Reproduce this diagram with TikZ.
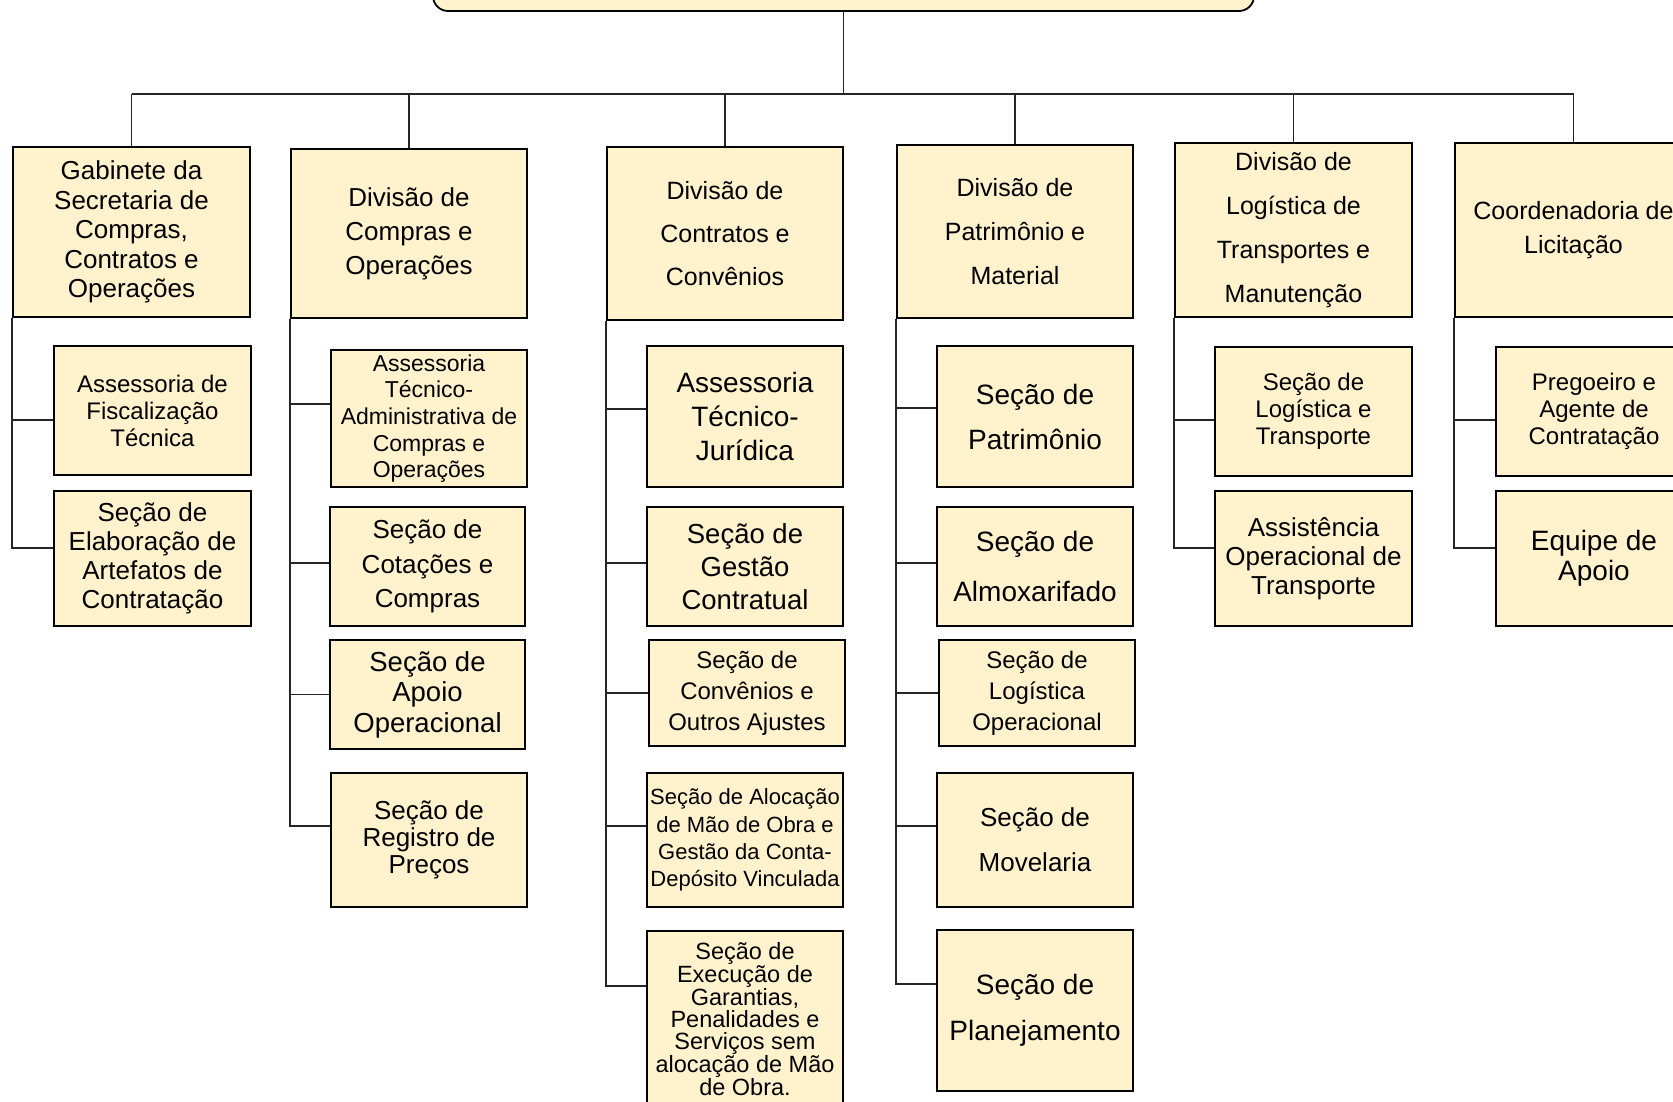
\documentclass[tikz,border=0pt]{standalone}
\usepackage{fontspec}
\setmainfont{Liberation Sans}
\definecolor{fundo}{HTML}{FFF2CC}
\newcommand{\fsz}[2]{\fontsize{#1}{#2}\selectfont}

\begin{document}
\begin{tikzpicture}[x=1pt, y=-1pt,
    caixa/.style={draw=black, fill=fundo, line width=1.8pt, inner sep=0pt, align=center},
    ligacao/.style={draw=black!85, line width=1.6pt}]
            \useasboundingbox (0,0) rectangle (1673,1101);

            % topo (cortado)
            \node[caixa, rounded corners=15pt, minimum width=821pt, minimum height=100pt] (topo) at (843.5,-39) {};

            % divisoes
            \node[caixa, minimum width=237pt, minimum height=170pt, font=\fsz{26}{29.5}] (d1) at (131.5,232) {Gabinete da\\Secretaria de\\Compras,\\Contratos e\\Operações};
            \node[caixa, minimum width=236pt, minimum height=169pt, font=\fsz{26}{34}] (d2) at (409,233.5) {Divisão de\\Compras e\\Operações};
            \node[caixa, minimum width=236pt, minimum height=173pt, font=\fsz{25}{43}] (d3) at (725,233.5) {Divisão de\\Contratos e\\Convênios};
            \node[caixa, minimum width=236pt, minimum height=173pt, font=\fsz{25}{44}] (d4) at (1015,231.5) {Divisão de\\Patrimônio e\\Material};
            \node[caixa, minimum width=237pt, minimum height=174pt, font=\fsz{25}{44}] (d5) at (1293.5,230) {Divisão de\\Logística de\\Transportes e\\Manutenção};
            \node[caixa, minimum width=237pt, minimum height=174pt, font=\fsz{25}{34}] (d6) at (1573.5,230) {Coordenadoria de\\Licitação};

            % secoes
            \node[caixa, minimum width=197pt, minimum height=129pt, font=\fsz{24}{27}] (a1) at (152.5,410.5) {Assessoria de\\Fiscalização\\Técnica};
            \node[caixa, minimum width=197pt, minimum height=135pt, font=\fsz{26}{29}] (a2) at (152.5,558.5) {Seção de\\Elaboração de\\Artefatos de\\Contratação};

            \node[caixa, minimum width=196pt, minimum height=137pt, font=\fsz{23}{26.7}] (b1) at (429,418.5) {Assessoria\\Técnico-\\Administrativa de\\Compras e\\Operações};
            \node[caixa, minimum width=195pt, minimum height=119pt, font=\fsz{26}{34.5}] (b2) at (427.5,566.5) {Seção de\\Cotações e\\Compras};
            \node[caixa, minimum width=195pt, minimum height=109pt, font=\fsz{27.5}{30.4}] (b3) at (427.5,694.5) {Seção de\\Apoio\\Operacional};
            \node[caixa, minimum width=196pt, minimum height=134pt, font=\fsz{26}{27.2}] (b4) at (429,840) {Seção de\\Registro de\\Preços};

            \node[caixa, minimum width=196pt, minimum height=141pt, font=\fsz{28}{34}] (c1) at (745,416.5) {Assessoria\\Técnico-\\Jurídica};
            \node[caixa, minimum width=196pt, minimum height=119pt, font=\fsz{27.5}{33}] (c2) at (745,566.5) {Seção de\\Gestão\\Contratual};
            \node[caixa, minimum width=196pt, minimum height=106pt, font=\fsz{24}{31}] (c3) at (747,693) {Seção de\\Convênios e\\Outros Ajustes};
            \node[caixa, minimum width=196pt, minimum height=134pt, font=\fsz{22}{27.4}] (c4) at (745,840) {Seção de Alocação\\de Mão de Obra e\\Gestão da Conta-\\Depósito Vinculada};
            \node[caixa, minimum width=196pt, minimum height=176pt, font=\fsz{23.5}{22}] (c5) at (745,1019) {Seção de\\Execução de\\Garantias,\\Penalidades e\\Serviços sem\\alocação de Mão\\de Obra.};

            \node[caixa, minimum width=196pt, minimum height=141pt, font=\fsz{28}{45}] (e1) at (1035,416.5) {Seção de\\Patrimônio};
            \node[caixa, minimum width=196pt, minimum height=119pt, font=\fsz{28}{50}] (e2) at (1035,566.5) {Seção de\\Almoxarifado};
            \node[caixa, minimum width=196pt, minimum height=106pt, font=\fsz{24}{31}] (e3) at (1037,693) {Seção de\\Logística\\Operacional};
            \node[caixa, minimum width=196pt, minimum height=134pt, font=\fsz{26}{45}] (e4) at (1035,840) {Seção de\\Movelaria};
            \node[caixa, minimum width=196pt, minimum height=161pt, font=\fsz{28}{46}] (e5) at (1035,1010.5) {Seção de\\Planejamento};

            \node[caixa, minimum width=197pt, minimum height=129pt, font=\fsz{24}{27}] (f1) at (1313.5,411.5) {Seção de\\Logística e\\Transporte};
            \node[caixa, minimum width=197pt, minimum height=135pt, font=\fsz{26}{29}] (f2) at (1313.5,558.5) {Assistência\\Operacional de\\Transporte};

            \node[caixa, minimum width=196pt, minimum height=129pt, font=\fsz{24}{27}] (g1) at (1594,411.5) {Pregoeiro e\\Agente de\\Contratação};
            \node[caixa, minimum width=196pt, minimum height=135pt, font=\fsz{28}{30}] (g2) at (1594,558.5) {Equipe de\\Apoio};

            % barramento
            \coordinate (barra) at (843.5,94);
            \draw[ligacao] (topo.south) -- (barra);
            \draw[ligacao] (d1.north |- barra) -- (d6.north |- barra);
            \foreach \d in {d1,d2,d3,d4,d5,d6}
                \draw[ligacao] (\d.north) -- (\d.north |- barra);

            % ramos
            \draw[ligacao] (d1.south west) |- ([yshift=-9.5pt]a1.west);
            \draw[ligacao] (d1.south west) |- ([yshift=10.5pt]a2.west);

            \draw[ligacao] (d2.south west) |- ([yshift=14.5pt]b1.west);
            \draw[ligacao] (d2.south west) |- ([yshift=3.5pt]b2.west);
            \draw[ligacao] (d2.south west) |- (b3.west);
            \draw[ligacao] (d2.south west) |- ([yshift=14pt]b4.west);

            \draw[ligacao] (d3.south west) |- ([yshift=7.5pt]c1.west);
            \draw[ligacao] (d3.south west) |- ([yshift=3.5pt]c2.west);
            \draw[ligacao] (d3.south west) |- (c3.west);
            \draw[ligacao] (d3.south west) |- ([yshift=14pt]c4.west);
            \draw[ligacao] (d3.south west) |- ([yshift=33pt]c5.west);

            \draw[ligacao] (d4.south west) |- ([yshift=8.5pt]e1.west);
            \draw[ligacao] (d4.south west) |- ([yshift=3.5pt]e2.west);
            \draw[ligacao] (d4.south west) |- (e3.west);
            \draw[ligacao] (d4.south west) |- ([yshift=14pt]e4.west);
            \draw[ligacao] (d4.south west) |- ([yshift=26.5pt]e5.west);

            \draw[ligacao] (d5.south west) |- ([yshift=-8.5pt]f1.west);
            \draw[ligacao] (d5.south west) |- ([yshift=10.5pt]f2.west);

            \draw[ligacao] (d6.south west) |- ([yshift=-8.5pt]g1.west);
            \draw[ligacao] (d6.south west) |- ([yshift=10.5pt]g2.west);
        \end{tikzpicture}
\end{document}
